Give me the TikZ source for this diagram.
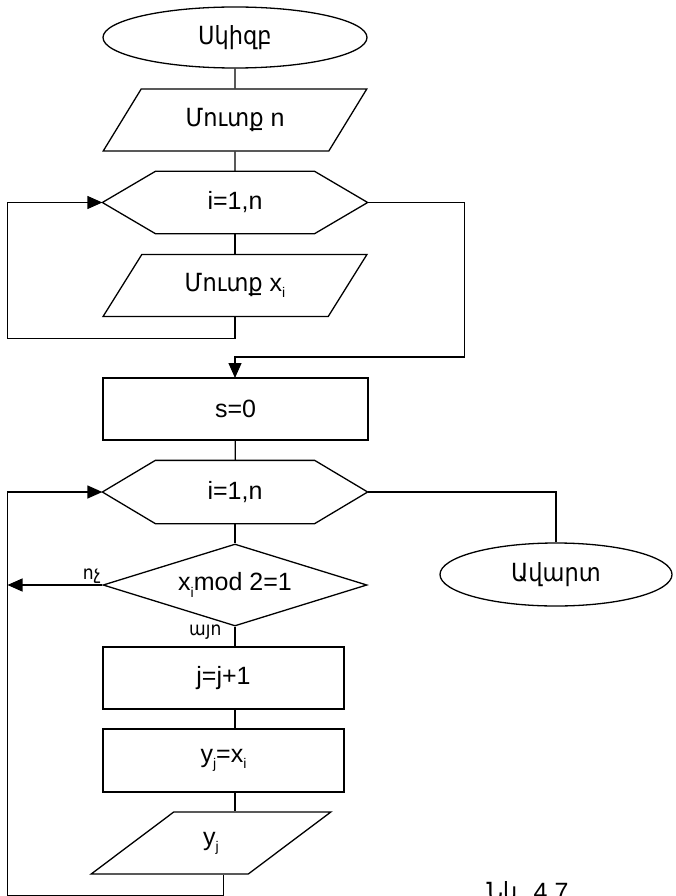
\documentclass[tikz,border=0pt]{standalone}
\usepackage{fontspec}
\setmainfont{Liberation Sans}
\newfontfamily\armfont{DejaVu Sans Condensed}
\usetikzlibrary{arrows.meta}
\usetikzlibrary{shapes.geometric}
\newcommand{\sub}[1]{\raisebox{-0.25em}{\fontsize{14}{14}\selectfont #1}}
% six-sided loop frame round a plain rectangle node
\newcommand{\hexframe}[1]{%
  \draw (#1.west) -- ([xshift=53pt]#1.north west) -- ([xshift=-53pt]#1.north east)
    -- (#1.east) -- ([xshift=-53pt]#1.south east) -- ([xshift=53pt]#1.south west) -- cycle;}

\begin{document}
\begin{tikzpicture}[x=1pt,y=-1pt,line width=1.3pt,
    every node/.style={font=\fontsize{25}{30}\selectfont,inner sep=0pt},
    box/.style={draw,rectangle,minimum width=265pt,minimum height=62pt},
    term/.style={draw,ellipse,minimum width=264pt,minimum height=61pt},
    io/.style={draw,trapezium,trapezium stretches=true,trapezium left angle=49.5,
      trapezium right angle=130.5,minimum width=264pt,minimum height=62pt},
    loophex/.style={rectangle,minimum width=264pt,minimum height=61pt},
    cond/.style={draw,diamond,aspect=3.22,minimum width=264pt,minimum height=82pt},
    flow/.style={-{Triangle[length=15pt,width=13pt]}},
    lbl/.style={font=\armfont\fontsize{19}{19}\selectfont,inner sep=1pt}]
    \useasboundingbox (0,0) rectangle (675,896);
    \clip (0,0) rectangle (675,896);
    \coordinate (rail) at (7.5,0);
    % input part
    \node[term] (start) at (235,37.5) {\armfont Սկիզբ};
    \node[io] (inA) at (235,120) {{\armfont Մուտք} n};
    \node[loophex] (loopA) at (235,202.5) {i=1,n};
    \hexframe{loopA}
    \node[io] (inX) at (235,285.5) {{\armfont Մուտք} x\sub{i}};
    \draw (start) -- (inA);
    \draw (inA) -- (loopA);
    \draw (loopA) -- (inX);
    \draw[flow] (inX |- inX.south) -- ++(0,21) -| (rail |- loopA.west) -- (loopA.west);
    \draw[flow] (loopA.east) -- ++(97,0) |- ([yshift=21pt]235,378) -- (235,378);
    % odd elements
    \node[box] (sinit) at (235.5,409) {s=0};
    \node[loophex,minimum height=62pt] (loopB) at (235,492) {i=1,n};
    \hexframe{loopB}
    \node[term,minimum width=232pt,minimum height=63pt] (finish) at (556,574.5) {\armfont Ավարտ};
    \node[cond] (test) at (235,585) {x\sub{i}mod 2=1};
    \node[box,minimum width=241pt] (jinc) at (223.5,678) {j=j+1};
    \node[box,minimum width=241pt,minimum height=63pt] (yset) at (223.5,760.5) {y\sub{j}=x\sub{i}};
    \node[io,minimum width=240pt,trapezium left angle=52.3,trapezium right angle=127.7] (outY) at (211,843) {y\sub{j}};
    \draw (sinit) -- (loopB);
    \draw (loopB) -- (test);
    \draw (loopB.east) -| (finish.north);
    \draw[flow] (test.west) -- (rail |- test.west);
    \node[lbl,anchor=south east] at (test.west) {ոչ};
    \node[lbl,anchor=north east] at ([xshift=-12pt,yshift=3pt]test.south) {այո};
    \draw (test.south) -- (test.south |- jinc.north);
    \draw (test |- jinc.south) -- (test |- yset.north);
    \draw (test |- yset.south) -- (test |- outY.north);
    \draw[flow] (jinc |- outY.south) -- ++(0,21) -| (rail |- loopB.west) -- (loopB.west);
    \node[anchor=north west] (fig) at (486,881) {{\armfont Նկ.} 4.7};
\end{tikzpicture}
\end{document}
